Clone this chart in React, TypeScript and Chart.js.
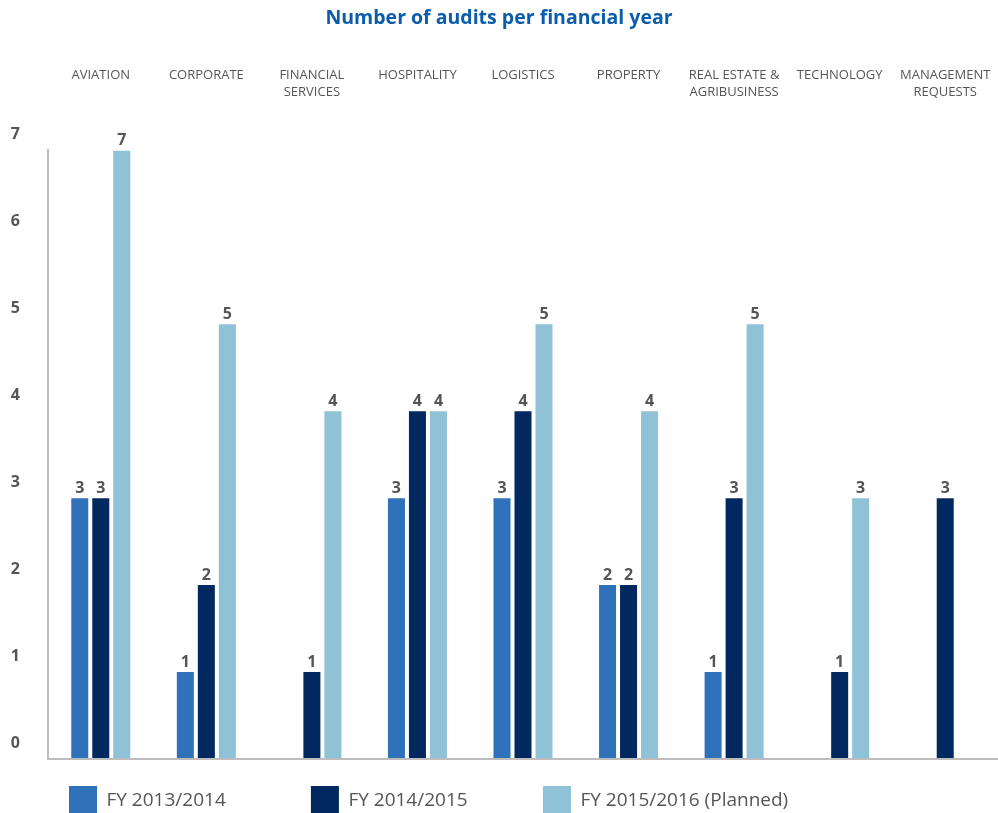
import React, { useEffect, useRef } from "react";
import { Chart, registerables } from "chart.js";

Chart.register(...registerables);

// Business units (multi-line labels are arrays)
const categories: (string | string[])[] = [
  "AVIATION",
  "CORPORATE",
  ["FINANCIAL", "SERVICES"],
  "HOSPITALITY",
  "LOGISTICS",
  "PROPERTY",
  ["REAL ESTATE &", "AGRIBUSINESS"],
  "TECHNOLOGY",
  ["MANAGEMENT", "REQUESTS"],
];

const seriesNames = ["FY 2013/2014", "FY 2014/2015", "FY 2015/2016 (Planned)"];

const fy2013: (number | null)[] = [3, 1, null, 3, 3, 2, 1, null, null];
const fy2014: (number | null)[] = [3, 2, 1, 4, 4, 2, 3, 1, 3];
const fy2015: (number | null)[] = [7, 5, 4, 4, 5, 4, 5, 3, null];

const yTicks = [0, 1, 2, 3, 4, 5, 6, 7];

const colors = ["#2f72b9", "#02295f", "#8fc2d6"];
const textGray = "#555555";
const axisGray = "#bdbdbd";

// extra space after each legend entry so the entries spread out
const legendGaps = [" ".repeat(13), " ".repeat(11), ""];

const valueLabels = {
  id: "valueLabels",
  afterDatasetsDraw(chart: any) {
    const { ctx } = chart;
    ctx.save();
    ctx.font = "bold 16px 'Open Sans'";
    ctx.fillStyle = textGray;
    ctx.textAlign = "center";
    ctx.textBaseline = "alphabetic";
    chart.data.datasets.forEach((ds: any, di: number) => {
      const meta = chart.getDatasetMeta(di);
      meta.data.forEach((bar: any, i: number) => {
        const v = ds.data[i];
        if (v === null || v === undefined) return;
        ctx.fillText(String(v), bar.x, bar.y - 5);
      });
    });
    ctx.restore();
  },
};

export default function App() {
  const canvasRef = useRef<HTMLCanvasElement | null>(null);

  useEffect(() => {
    if (!canvasRef.current) return;
    Chart.defaults.font.family = "'Open Sans', sans-serif";
    const chart = new Chart(canvasRef.current, {
      type: "bar",
      data: {
        labels: categories,
        datasets: [fy2013, fy2014, fy2015].map((data, i) => ({
          label: seriesNames[i],
          data,
          backgroundColor: colors[i],
          borderWidth: 0,
          categoryPercentage: 0.597,
          barPercentage: 0.81,
        })),
      },
      options: {
        responsive: false,
        animation: false,
        layout: { padding: 0 },
        plugins: {
          title: {
            display: true,
            text: "Number of audits per financial year",
            color: "#0b5cab",
            font: { size: 19.5, weight: "bold" },
            padding: { top: 7, bottom: 0 },
          },
          legend: {
            position: "bottom",
            align: "start",
            fullSize: false,
            maxHeight: 54,
            title: { display: true, text: "", padding: 0, font: { size: 6, lineHeight: 1 } },
            labels: {
              boxWidth: 28,
              boxHeight: 30,
              padding: 21,
              color: textGray,
              font: { size: 19 },
              generateLabels: (c: any) =>
                Chart.defaults.plugins.legend.labels
                  .generateLabels(c)
                  .map((item: any, i: number) => ({ ...item, text: item.text + legendGaps[i] })),
            },
          },
          tooltip: { enabled: false },
        },
        scales: {
          x: {
            position: "top",
            grid: { display: false, drawTicks: false },
            border: { display: false },
            ticks: {
              color: textGray,
              font: { size: 13, lineHeight: "17px" },
              padding: 50,
              crossAlign: "far",
              maxRotation: 0,
              autoSkip: false,
            },
            afterFit: (s: any) => {
              s.height = 120;
              s.paddingLeft = 0;
              s.paddingRight = 0;
            },
          },
          y: {
            min: 0,
            max: 7,
            afterBuildTicks: (s: any) => {
              s.ticks = yTicks.map((v) => ({ value: v }));
            },
            grid: {
              drawTicks: false,
              lineWidth: 2,
              color: (ctx: any) => (ctx.tick && ctx.tick.value === 0 ? axisGray : "rgba(0,0,0,0)"),
            },
            border: { display: true, color: axisGray, width: 2 },
            ticks: {
              color: textGray,
              font: { size: 16, weight: "bold" },
              padding: 28,
              labelOffset: -16,
            },
            afterFit: (s: any) => {
              s.width = 48;
              s.paddingTop = 0;
              s.paddingBottom = 0;
            },
          },
        },
      },
      plugins: [valueLabels],
    });
    return () => chart.destroy();
  }, []);

  return (
    <div style={{ position: "absolute", left: 0, top: 0, width: 998, height: 813, background: "#fff" }}>
      <canvas ref={canvasRef} width={998} height={813} style={{ display: "block" }} />
    </div>
  );
}
